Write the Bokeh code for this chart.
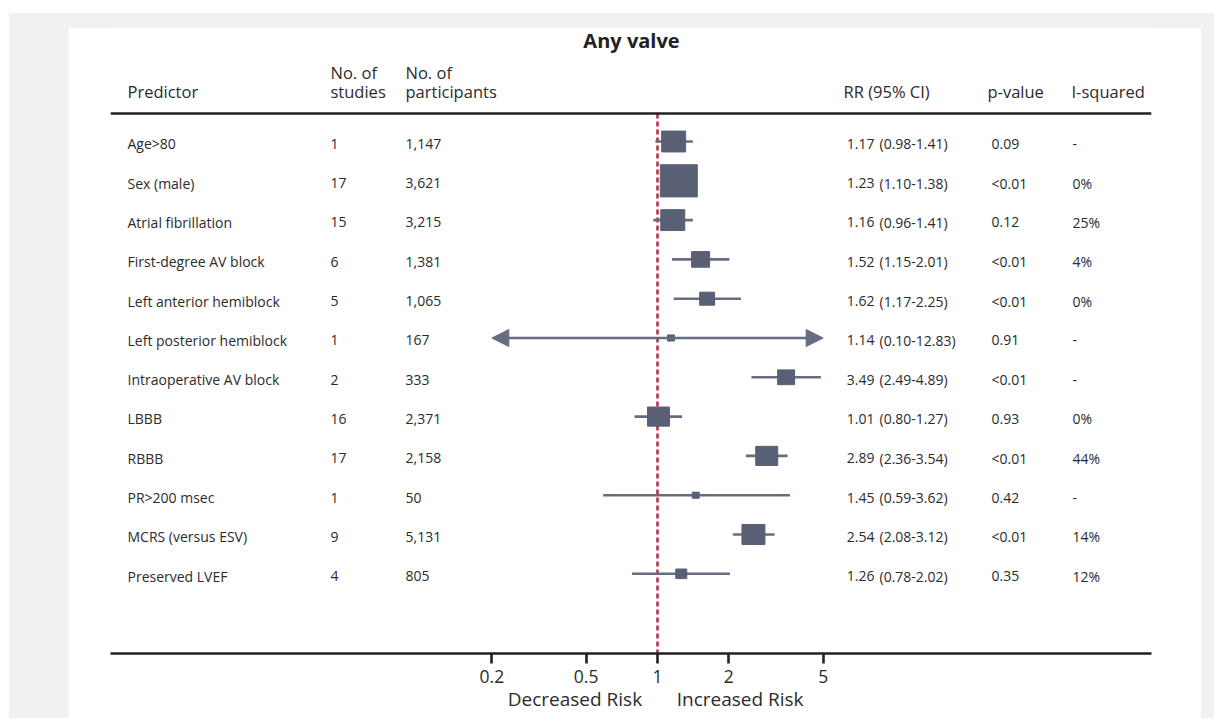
from bokeh.plotting import figure
from bokeh.models import Range1d, FixedTicker, Arrow, NormalHead, ColumnDataSource, CustomJSTickFormatter
from bokeh.layouts import column
from bokeh.embed import file_html
from bokeh.resources import INLINE
from bokeh.core.properties import value

# ---------------- data ----------------
predictors = ["Age>80", "Sex (male)", "Atrial fibrillation", "First-degree AV block",
              "Left anterior hemiblock", "Left posterior hemiblock", "Intraoperative AV block",
              "LBBB", "RBBB", "PR>200 msec", "MCRS (versus ESV)", "Preserved LVEF"]
n_studies = [1, 17, 15, 6, 5, 1, 2, 16, 17, 1, 9, 4]
n_participants = ["1,147", "3,621", "3,215", "1,381", "1,065", "167", "333",
                  "2,371", "2,158", "50", "5,131", "805"]
rr = [1.17, 1.23, 1.16, 1.52, 1.62, 1.14, 3.49, 1.01, 2.89, 1.45, 2.54, 1.26]
ci_low = [0.98, 1.10, 0.96, 1.15, 1.17, 0.10, 2.49, 0.80, 2.36, 0.59, 2.08, 0.78]
ci_high = [1.41, 1.38, 1.41, 2.01, 2.25, 12.83, 4.89, 1.27, 3.54, 3.62, 3.12, 2.02]
p_values = ["0.09", "<0.01", "0.12", "<0.01", "<0.01", "0.91", "<0.01", "0.93",
            "<0.01", "0.42", "<0.01", "0.35"]
i_squared = ["-", "0%", "25%", "4%", "0%", "-", "-", "0%", "44%", "-", "14%", "12%"]
weight = [24, 37, 24, 18, 15, 7, 17, 22, 22, 7, 23, 11]   # relative weight (box size)
tick_values = [0.2, 0.5, 1, 2, 5]
display_limits = [0.2, 5]
headers = ["Predictor", "studies", "participants", "RR (95% CI)", "p-value", "I-squared"]
title_text = "Any valve"
left_label, right_label = "Decreased Risk", "Increased Risk"

# ---------------- layout constants (page pixels) ----------------
GRAY_L, GRAY_T = 9, 13
FIG_LEFT, FIG_TOP = 68, 27
FIG_W, FIG_H = 1133, 691
FRAME_L, FRAME_R = 110, 1151          # page x of frame
FRAME_T, FRAME_B = 27, 653            # page y of frame
ONE_PX, DECADE = 657, 237             # page x of RR=1, pixels per decade
ROW0, STEP = 141, 39.3                # page y of first row, row spacing


def px2x(xp):
    return 10 ** ((xp - ONE_PX) / DECADE)


def py2y(yp):
    return (yp - ROW0) / STEP


x_start, x_end = px2x(FRAME_L), px2x(FRAME_R)
y_top, y_bottom = py2y(FRAME_T), py2y(FRAME_B)

TEXT = "#2b2b2b"
FONT = "Open Sans"
BOX = "#596076"
LINE = "#676d81"
RED = "#bf2f4a"
RULE = "#222222"

p = figure(width=FIG_W, height=FIG_H, x_axis_type="log",
           x_range=Range1d(x_start, x_end), y_range=Range1d(y_bottom, y_top),
           y_axis_location=None, output_backend="svg", toolbar_location=None,
           min_border_left=FRAME_L - FIG_LEFT, min_border_right=FIG_LEFT + FIG_W - FRAME_R,
           min_border_top=0, min_border_bottom=FIG_TOP + FIG_H - FRAME_B)
p.margin = (FIG_TOP - GRAY_T, 13, 0, FIG_LEFT - GRAY_L)
p.xgrid.visible = False
p.ygrid.visible = False
p.outline_line_color = None
p.background_fill_color = "white"
p.border_fill_color = "white"

rows = list(range(len(predictors)))
top_rule_y = py2y(113)

# red reference line at RR = 1
p.segment(x0=[1], x1=[1], y0=[top_rule_y], y1=[y_bottom], line_color=RED,
          line_width=2.6, line_dash="5 3")

# top rule
p.segment(x0=[x_start], x1=[x_end], y0=[top_rule_y], y1=[top_rule_y],
          line_color=RULE, line_width=2.6)

# confidence intervals
lo_in, hi_in, r_in = [], [], []
for i in rows:
    lo, hi = ci_low[i], ci_high[i]
    if lo < display_limits[0] or hi > display_limits[1]:
        lo_c = max(lo, display_limits[0])
        hi_c = min(hi, display_limits[1])
        head_l = NormalHead(size=17, fill_color=LINE, line_color=LINE, line_width=1) if lo < display_limits[0] else None
        head_r = NormalHead(size=17, fill_color=LINE, line_color=LINE, line_width=1) if hi > display_limits[1] else None
        p.add_layout(Arrow(x_start=lo_c, y_start=i, x_end=hi_c, y_end=i,
                           line_color=LINE, line_width=2.6, start=head_l, end=head_r))
    else:
        lo_in.append(lo)
        hi_in.append(hi)
        r_in.append(i)
p.segment(x0=lo_in, x1=hi_in, y0=r_in, y1=r_in, line_color=LINE, line_width=2.6)

# boxes
src = ColumnDataSource(dict(
    row=rows, trow=[r + 0.06 for r in rows], rr=rr, w=weight, h=[v * 0.87 for v in weight],
    pred=predictors, stud=[str(v) for v in n_studies], part=n_participants,
    rrtxt=["%.2f" % v for v in rr],
    citxt=["(%.2f-%.2f)" % (a, b) for a, b in zip(ci_low, ci_high)],
    pv=p_values, i2=i_squared))
p.rect(x="rr", y="row", width="w", height="h", width_units="screen",
       height_units="screen", source=src, fill_color=BOX, line_color=BOX)

# table text
row_style = dict(text_font=value(FONT), text_font_size="14px", text_color=TEXT,
                 text_baseline="middle", source=src)
p.text(x=px2x(127), y="trow", text="pred", text_align="left", **row_style)
p.text(x=px2x(330), y="trow", text="stud", text_align="left", **row_style)
p.text(x=px2x(405), y="trow", text="part", text_align="left", **row_style)
p.text(x=px2x(874), y="trow", text="rrtxt", text_align="right", **row_style)
p.text(x=px2x(879), y="trow", text="citxt", text_align="left", **row_style)
p.text(x=px2x(991), y="trow", text="pv", text_align="left", **row_style)
p.text(x=px2x(1072), y="trow", text="i2", text_align="left", **row_style)

# headers
head = dict(text_font=value(FONT), text_font_size="16.5px", text_color=TEXT,
            text_baseline="middle", text_align="left")
hy1, hy2 = py2y(72), py2y(91)
p.text(x=[px2x(127), px2x(330), px2x(405), px2x(843), px2x(987), px2x(1071)],
       y=[hy2] * 6, text=headers, **head)
p.text(x=[px2x(330), px2x(405)], y=[hy1] * 2, text=["No. of", "No. of"], **head)

# title
p.text(x=[px2x(631)], y=[py2y(40)], text=[title_text], text_font=value(FONT),
       text_font_size="20px", text_font_style="bold", text_color="#222222",
       text_align="center", text_baseline="middle")

# axis
ax = p.xaxis[0]
ax.ticker = FixedTicker(ticks=tick_values)
ax.formatter = CustomJSTickFormatter(code="return String(tick);")
ax.axis_line_width = 2.6
ax.axis_line_color = RULE
ax.major_tick_line_width = 2.6
ax.major_tick_line_color = RULE
ax.major_tick_out = 10
ax.major_tick_in = 0
ax.minor_tick_line_color = None
ax.major_label_text_font = FONT
ax.major_label_text_font_size = "17.5px"
ax.major_label_text_color = TEXT
ax.major_label_standoff = 6
NB = "\u00a0"
ax.axis_label = NB * 10 + left_label + NB * 7 + right_label
ax.axis_label_text_font = FONT
ax.axis_label_text_font_style = "normal"
ax.axis_label_text_font_size = "19px"
ax.axis_label_text_color = TEXT
ax.axis_label_standoff = 0

layout = column(p, styles={"background-color": "#f1f1f1"})
layout.margin = (GRAY_T, 0, 0, GRAY_L)

open("out.html", "w").write(file_html(layout, INLINE))
